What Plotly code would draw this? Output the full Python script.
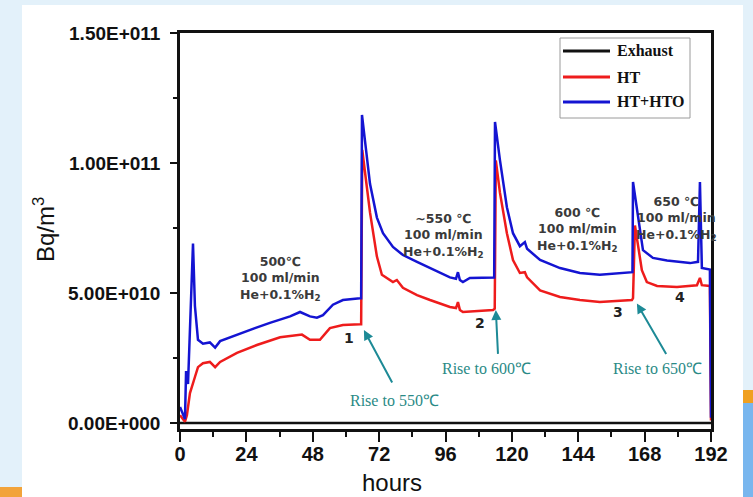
import plotly.graph_objects as go

# ---------------- data ----------------
hours_blue = [0, 1.8, 2.2, 2.9, 4.7, 5.4, 6.5, 8.3, 10.8, 12.7, 14.5, 20.6, 27.1, 32.5,
              39.8, 43.4, 47.0, 49.5, 51.7, 55.3, 58.9, 65.1, 65.5, 65.8, 66.9, 68.7,
              71.2, 73.4, 77.0, 80.6, 85.7, 90.4, 94.0, 97.6, 99.8, 100.5, 101.2, 102.3,
              104.8, 113.2, 113.6, 113.9, 115.7, 118.2, 120.4, 122.9, 124.7, 125.5, 130.2,
              137.4, 144.6, 151.8, 163.4, 163.6, 163.8, 167.4, 171.0, 176.1, 184.4, 187.3,
              188.0, 188.7, 191.6, 192.0]
ht_hto = [0.62e10, 0.15e10, 2.0e10, 1.5e10, 6.9e10, 4.5e10, 3.2e10, 3.05e10, 3.1e10, 2.9e10,
          3.15e10, 3.4e10, 3.65e10, 3.85e10, 4.1e10, 4.27e10, 4.1e10, 4.05e10, 4.15e10,
          4.55e10, 4.73e10, 4.8e10, 4.8e10, 11.85e10, 10.8e10, 9.2e10, 7.9e10, 7.3e10,
          6.77e10, 6.46e10, 6.2e10, 5.96e10, 5.77e10, 5.6e10, 5.55e10, 5.8e10, 5.5e10,
          5.42e10, 5.58e10, 5.58e10, 5.6e10, 11.58e10, 10.1e10, 8.3e10, 7.3e10, 6.8e10,
          6.96e10, 6.7e10, 6.27e10, 5.96e10, 5.77e10, 5.7e10, 5.77e10, 5.8e10, 9.27e10,
          6.65e10, 6.35e10, 6.25e10, 6.15e10, 6.2e10, 9.27e10, 5.96e10, 5.9e10, 0.2e10]

hours_red = [0, 1.8, 2.5, 3.6, 5.4, 6.5, 8.3, 10.8, 12.7, 14.5, 20.6, 27.8, 36.2, 44.1,
             47.0, 50.6, 54.2, 58.9, 65.1, 65.5, 65.9, 66.9, 68.7, 71.2, 73.0, 77.0, 78.4,
             80.6, 85.7, 90.4, 97.6, 99.8, 100.5, 101.2, 102.3, 113.2, 113.8, 114.2, 115.7,
             118.2, 120.4, 122.9, 124.7, 125.5, 130.2, 137.4, 144.6, 151.8, 163.4, 163.8,
             164.5, 167.0, 168.8, 172.5, 179.7, 186.9, 188.0, 188.7, 191.6, 192.0]
ht = [0.3e10, 0.05e10, 0.3e10, 1.15e10, 1.77e10, 2.15e10, 2.3e10, 2.35e10, 2.15e10, 2.35e10,
      2.7e10, 3.0e10, 3.3e10, 3.4e10, 3.2e10, 3.2e10, 3.65e10, 3.77e10, 3.8e10, 3.8e10,
      10.5e10, 9.6e10, 8.1e10, 6.4e10, 5.7e10, 5.42e10, 5.5e10, 5.2e10, 4.92e10, 4.73e10,
      4.46e10, 4.42e10, 4.65e10, 4.35e10, 4.27e10, 4.35e10, 4.4e10, 10.1e10, 8.85e10,
      7.3e10, 6.27e10, 5.77e10, 5.8e10, 5.6e10, 5.1e10, 4.85e10, 4.73e10, 4.65e10,
      4.73e10, 4.8e10, 7.6e10, 5.88e10, 5.42e10, 5.27e10, 5.23e10, 5.3e10, 5.58e10,
      5.3e10, 5.27e10, 0.1e10]

hours_exhaust = [0, 48, 96, 144, 192]
exhaust = [0, 0, 0, 0, 0]

x_ticks = [0, 24, 48, 72, 96, 120, 144, 168, 192]
y_ticks = [0, 5e10, 1e11, 1.5e11]
y_tick_labels = ["0.00E+000", "5.00E+010", "1.00E+011", "1.50E+011"]

series_names = ["Exhaust", "HT", "HT+HTO"]
series_colors = ["#111111", "#ee1c1c", "#1414d2"]

conditions = [
    (36.2, 5.54e10, "500℃<br>100 ml/min<br>He+0.1%H<sub>2</sub>"),
    (95.1, 7.23e10, "~550 ℃<br>100 ml/min<br>He+0.1%H<sub>2</sub>"),
    (143.9, 7.46e10, "600 ℃<br>100 ml/min<br>He+0.1%H<sub>2</sub>"),
    (179.7, 7.88e10, "650 ℃<br>100 ml/min<br>He+0.1%H<sub>2</sub>"),
]
step_labels = [(61.1, 3.27e10, "1"), (108.5, 3.85e10, "2"), (158.4, 4.27e10, "3"), (180.8, 4.85e10, "4")]
# (head x, head y, tail x, tail y, text x, text y, text)
rise_arrows = [
    (66.5, 3.58e10, 77.0, 1.5e10, 77.4, 0.85e10, "Rise to 550℃"),
    (114.2, 4.35e10, 115.0, 2.6e10, 111.0, 2.1e10, "Rise to 600℃"),
    (165.2, 4.6e10, 176.1, 2.6e10, 172.5, 2.1e10, "Rise to 650℃"),
]

# ---------------- layout helpers (pixel -> paper) ----------------
L, R, T, B = 180, 711, 33, 429
def px(x):
    return (x - L) / (R - L)
def py(y):
    return (B - y) / (B - T)

fig = go.Figure()
fig.add_trace(go.Scatter(x=hours_exhaust, y=exhaust, mode="lines", name=series_names[0],
                         line=dict(color=series_colors[0], width=2.5)))
fig.add_trace(go.Scatter(x=hours_red, y=ht, mode="lines", name=series_names[1],
                         line=dict(color=series_colors[1], width=2.5)))
fig.add_trace(go.Scatter(x=hours_blue, y=ht_hto, mode="lines", name=series_names[2],
                         line=dict(color=series_colors[2], width=2.5)))

shapes = []
# page background pieces
shapes.append(dict(type="rect", xref="paper", yref="paper", x0=px(22), x1=px(743), y0=py(497), y1=py(5),
                   fillcolor="white", line=dict(width=0), layer="below"))
shapes.append(dict(type="rect", xref="paper", yref="paper", x0=px(0), x1=px(22), y0=py(497), y1=py(487),
                   fillcolor="#f2a33a", line=dict(width=0), layer="below"))
shapes.append(dict(type="rect", xref="paper", yref="paper", x0=px(743), x1=px(753), y0=py(403), y1=py(390),
                   fillcolor="#f0a020", line=dict(width=0), layer="below"))
shapes.append(dict(type="rect", xref="paper", yref="paper", x0=px(743), x1=px(753), y0=py(497), y1=py(403),
                   fillcolor="#78b6ee", line=dict(width=0), layer="below"))
# legend box
shapes.append(dict(type="rect", xref="paper", yref="paper", x0=px(560), x1=px(690), y0=py(118), y1=py(38),
                   fillcolor="white", line=dict(color="#9a9a9a", width=1)))
annotations = []
for i, (nm, col) in enumerate(zip(series_names, series_colors)):
    yy = [51, 77, 102][i]
    shapes.append(dict(type="line", xref="paper", yref="paper", x0=px(563), x1=px(610), y0=py(yy), y1=py(yy),
                       line=dict(color=col, width=3)))
    annotations.append(dict(xref="paper", yref="paper", x=px(615), y=py(yy), text=nm, showarrow=False,
                            xanchor="left", yanchor="middle",
                            font=dict(family="Liberation Serif", size=16, color="#111", weight="bold")))

for x, y, t in conditions:
    annotations.append(dict(x=x, y=y, text=t, showarrow=False, xanchor="center", yanchor="middle",
                            font=dict(family="DejaVu Sans", size=12.5, color="#3a3a3a", weight="bold")))
for x, y, t in step_labels:
    annotations.append(dict(x=x, y=y, text=t, showarrow=False, xanchor="center", yanchor="middle",
                            font=dict(family="DejaVu Sans", size=14, color="#222", weight="bold")))
for hx, hy, tx, ty, lx, ly, t in rise_arrows:
    annotations.append(dict(x=hx, y=hy, ax=tx, ay=ty, axref="x", ayref="y", text="", showarrow=True,
                            arrowhead=2, arrowsize=1, arrowwidth=2, arrowcolor="#1d8a96"))
    annotations.append(dict(x=lx, y=ly, text=t, showarrow=False, xanchor="center", yanchor="middle",
                            font=dict(family="Liberation Serif", size=16, color="#2a8a86")))

annotations.append(dict(xref="paper", yref="paper", x=px(392), y=py(482), text="hours", showarrow=False,
                        xanchor="center", yanchor="middle",
                        font=dict(family="Liberation Sans", size=24, color="#111")))
annotations.append(dict(xref="paper", yref="paper", x=px(44), y=py(230), text="Bq/m<sup>3</sup>",
                        showarrow=False, textangle=-90, xanchor="center", yanchor="middle",
                        font=dict(family="Liberation Sans", size=24, color="#111")))

fig.update_layout(
    width=753, height=497,
    margin=dict(l=L, r=753 - R, t=T, b=497 - B),
    paper_bgcolor="#e3f1fa", plot_bgcolor="white",
    showlegend=False,
    shapes=shapes, annotations=annotations,
    xaxis=dict(range=[0, 192], tickvals=x_ticks, ticks="outside", ticklen=10, tickwidth=2,
               tickcolor="#111", showline=True, linecolor="#111", linewidth=2.5, mirror=True,
               showgrid=False, zeroline=False, ticklabelstandoff=-5,
               tickfont=dict(family="Liberation Sans", size=20, color="#111", weight="bold"),
               minor=dict(dtick=12, tick0=0, ticks="outside", ticklen=5, tickwidth=2, tickcolor="#111")),
    yaxis=dict(range=[-2.3e9, 1.5e11], tickvals=y_ticks, ticktext=y_tick_labels, ticks="outside",
               ticklen=7, tickwidth=2, tickcolor="#111", showline=True, linecolor="#111", linewidth=2.5,
               mirror=True, showgrid=False, zeroline=False, ticklabelstandoff=6,
               tickfont=dict(family="Liberation Sans", size=19, color="#111", weight="bold"),
               minor=dict(dtick=2.5e10, tick0=0, ticks="outside", ticklen=4, tickwidth=2, tickcolor="#111")),
)

fig.write_html("out.html", config={"displayModeBar": False},
               post_script="document.body.style.margin='0';document.body.style.overflow='hidden';")
